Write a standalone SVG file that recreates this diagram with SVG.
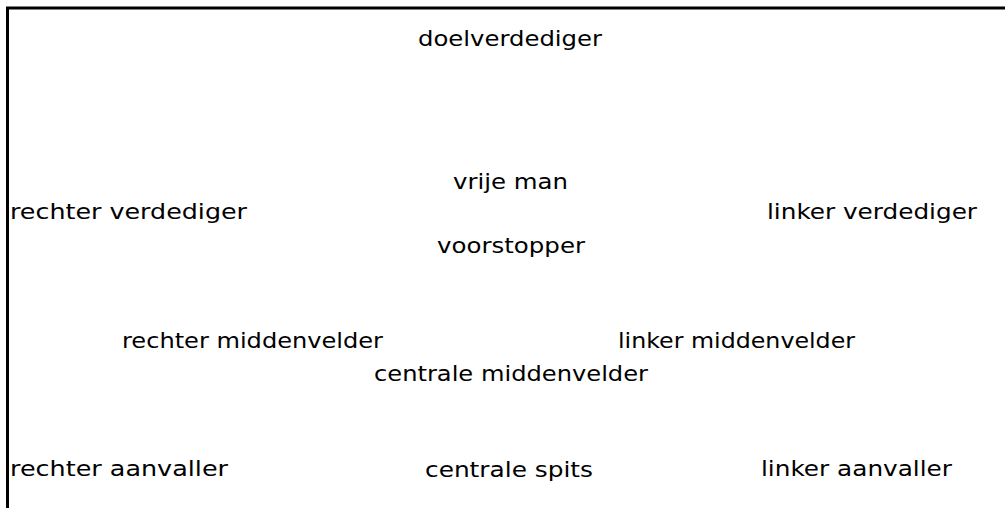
<svg xmlns="http://www.w3.org/2000/svg" width="1005" height="508" viewBox="0 0 1005 508">
<style>
text{font-family:"Comic Sans MS","DejaVu Sans","Liberation Sans",sans-serif;font-size:22px;fill:#000}
.b{fill:none;stroke:#000;stroke-width:3}
</style>
<rect width="1005" height="508" fill="#fff"/>
<path class="b" d="M7.5 508 V8 H1005"/>
<g id="doelverdediger"><text x="418" y="46" textLength="184" lengthAdjust="spacingAndGlyphs">doelverdediger</text></g>
<g id="vrije-man"><text x="453" y="189" textLength="115" lengthAdjust="spacingAndGlyphs">vrije man</text></g>
<g id="rechter-verdediger"><text x="10" y="219" textLength="237" lengthAdjust="spacingAndGlyphs">rechter verdediger</text></g>
<g id="linker-verdediger"><text x="767" y="219" textLength="210" lengthAdjust="spacingAndGlyphs">linker verdediger</text></g>
<g id="voorstopper"><text x="437" y="253" textLength="148" lengthAdjust="spacingAndGlyphs">voorstopper</text></g>
<g id="rechter-middenvelder"><text x="122" y="348" textLength="261" lengthAdjust="spacingAndGlyphs">rechter middenvelder</text></g>
<g id="linker-middenvelder"><text x="618" y="348" textLength="237" lengthAdjust="spacingAndGlyphs">linker middenvelder</text></g>
<g id="centrale-middenvelder"><text x="374" y="381" textLength="274" lengthAdjust="spacingAndGlyphs">centrale middenvelder</text></g>
<g id="rechter-aanvaller"><text x="10" y="476" textLength="218" lengthAdjust="spacingAndGlyphs">rechter aanvaller</text></g>
<g id="centrale-spits"><text x="425" y="477" textLength="168" lengthAdjust="spacingAndGlyphs">centrale spits</text></g>
<g id="linker-aanvaller"><text x="761" y="476" textLength="191" lengthAdjust="spacingAndGlyphs">linker aanvaller</text></g>
<g id="connectors"/>
</svg>
